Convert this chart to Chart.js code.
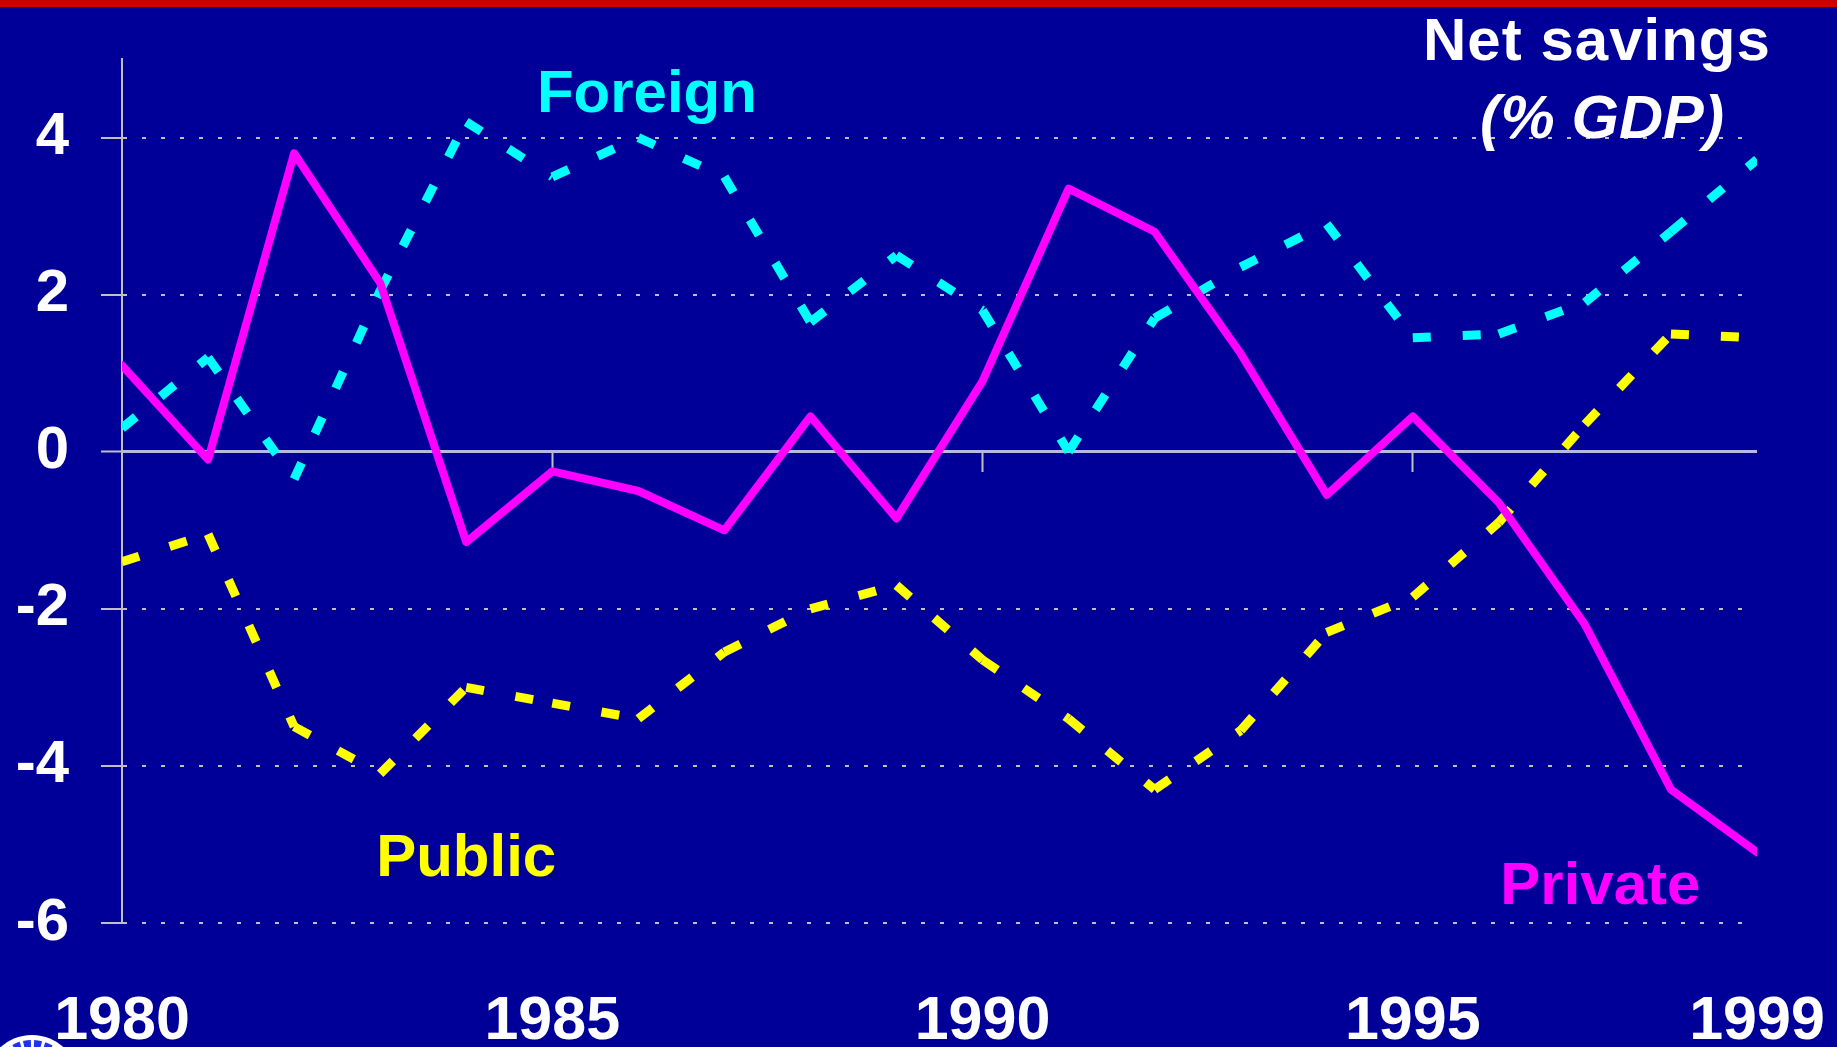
<!DOCTYPE html>
<html>

<head>
    <meta charset="utf-8">
    <script src="https://cdn.jsdelivr.net/npm/chart.js@4.4.0/dist/chart.umd.min.js"></script>
    <style>
        html,
        body {
            margin: 0;
            padding: 0;
            background: #000099;
            overflow: hidden;
        }

        #chart-container {
            width: 1837px;
            height: 1047px;
        }
    </style>
</head>

<body>
    <div id="chart-container">
        <canvas id="savingsChart" width="1837" height="1047"></canvas>
    </div>
    <script>
        // values, % of GDP
        const years = [1980, 1981, 1982, 1983, 1984, 1985, 1986, 1987, 1988, 1989,
            1990, 1991, 1992, 1993, 1994, 1995, 1996, 1997, 1998, 1999];
        const privateSavings = [1.1, -0.1, 3.8, 2.15, -1.15, -0.25, -0.5, -1.0, 0.45, -0.85,
            0.9, 3.35, 2.8, 1.25, -0.55, 0.45, -0.65, -2.2, -4.3, -5.1];
        const publicSavings = [-1.4, -1.05, -3.5, -4.1, -3.0, -3.2, -3.4, -2.55, -2.0, -1.7,
            -2.65, -3.4, -4.3, -3.55, -2.3, -1.85, -0.9, 0.35, 1.5, 1.45];
        const foreignSavings = [0.3, 1.2, -0.35, 2.05, 4.2, 3.5, 4.0, 3.5, 1.65, 2.5,
            1.8, 0.0, 1.7, 2.35, 2.9, 1.45, 1.5, 1.9, 2.8, 3.72];

        const xTickYears = [1980, 1985, 1990, 1995, 1999];
        const zeroTickYears = [1985, 1990, 1995];
        const yTickValues = [-6, -4, -2, 0, 2, 4];

        const FONT = '"Liberation Sans", Arial, sans-serif';
        const GRID = '#C0C0C0';

        // labels placed in data units
        const notes = [
            { text: 'Foreign', year: 1986.1, value: 4.33, color: '#00FFFF', font: 'bold 60px ' + FONT },
            { text: 'Public', year: 1984.0, value: -5.4, color: '#FFFF00', font: 'bold 60px ' + FONT },
            { text: 'Private', year: 1997.18, value: -5.76, color: '#FF00FF', font: 'bold 60px ' + FONT },
            { text: 'Net savings', year: 1997.14, value: 4.99, color: '#FFFFFF', font: 'bold 60px ' + FONT, spacing: '1px' },
            { text: '(% GDP)', year: 1997.2, value: 4.0, color: '#FFFFFF', font: 'italic bold 61px ' + FONT }
        ];

        // each segment its own path so the dash pattern restarts at every year
        const restartDash = { borderDashOffset: ctx => ctx.p0DataIndex * 0.001 };

        const slidePlugin = {
            id: 'slide',
            beforeDraw(chart) {
                const c = chart.ctx;
                c.save();
                c.fillStyle = '#000099';
                c.fillRect(0, 0, chart.width, chart.height);
                c.fillStyle = '#CC0000';
                c.fillRect(0, 0, chart.width, 7);
                c.restore();
            },
            afterDraw(chart) {
                const c = chart.ctx;
                const xs = chart.scales.x, ys = chart.scales.y;
                c.save();
                c.textAlign = 'center';
                c.textBaseline = 'alphabetic';
                notes.forEach(n => {
                    c.font = n.font;
                    c.letterSpacing = n.spacing || '0px';
                    c.fillStyle = n.color;
                    c.fillText(n.text, xs.getPixelForValue(n.year), ys.getPixelForValue(n.value));
                });
                // logo peeking in at the bottom left
                c.beginPath();
                c.arc(32, 1082, 47, 0, Math.PI * 2);
                c.fillStyle = '#FFFFFF';
                c.fill();
                c.beginPath();
                c.arc(32, 1082, 37, Math.PI, Math.PI * 2);
                c.setLineDash([7, 3]);
                c.lineWidth = 10;
                c.strokeStyle = '#2233EE';
                c.stroke();
                c.restore();
            }
        };

        const ctx = document.getElementById('savingsChart').getContext('2d');

        const savingsChart = new Chart(ctx, {
            type: 'line',
            data: {
                labels: years,
                datasets: [
                    {
                        label: 'Private',
                        data: privateSavings,
                        borderColor: '#FF00FF',
                        borderWidth: 8,
                        borderJoinStyle: 'round',
                        borderCapStyle: 'round',
                        pointRadius: 0,
                        tension: 0,
                        xAxisID: 'x',
                        yAxisID: 'y'
                    },
                    {
                        label: 'Public',
                        data: publicSavings,
                        borderColor: '#FFFF00',
                        borderWidth: 9,
                        borderDash: [18, 32],
                        segment: restartDash,
                        pointRadius: 0,
                        tension: 0,
                        xAxisID: 'x',
                        yAxisID: 'y'
                    },
                    {
                        label: 'Foreign',
                        data: foreignSavings,
                        borderColor: '#00FFFF',
                        borderWidth: 9,
                        borderDash: [18, 32],
                        segment: restartDash,
                        pointRadius: 0,
                        tension: 0,
                        xAxisID: 'x',
                        yAxisID: 'y'
                    }
                ]
            },
            options: {
                responsive: false,
                animation: false,
                devicePixelRatio: 1,
                events: [],
                layout: {
                    padding: { top: 59, right: 80, bottom: 0, left: 0 }
                },
                plugins: {
                    legend: { display: false },
                    tooltip: { enabled: false },
                    title: { display: false }
                },
                scales: {
                    x: {
                        type: 'linear',
                        axis: 'x',
                        position: 'bottom',
                        min: 1980,
                        max: 1999,
                        afterBuildTicks: axis => { axis.ticks = xTickYears.map(v => ({ value: v })); },
                        afterFit: axis => { axis.height = 124; },
                        ticks: {
                            color: '#FFFFFF',
                            font: { family: FONT, size: 61, weight: 'bold', lineHeight: 1.2 },
                            padding: 0,
                            maxRotation: 0,
                            autoSkip: false,
                            callback: v => String(v)
                        },
                        grid: {
                            display: true,
                            drawOnChartArea: false,
                            drawTicks: true,
                            tickLength: 63,
                            tickColor: 'rgba(0,0,0,0)'
                        },
                        border: { display: false }
                    },
                    x2: {
                        type: 'linear',
                        axis: 'x',
                        position: { y: 0 },
                        min: 1980,
                        max: 1999,
                        afterBuildTicks: axis => { axis.ticks = zeroTickYears.map(v => ({ value: v })); },
                        ticks: { display: false },
                        grid: {
                            drawOnChartArea: false,
                            drawTicks: true,
                            tickLength: 20,
                            tickColor: GRID,
                            tickWidth: 2
                        },
                        border: { display: false }
                    },
                    y: {
                        type: 'linear',
                        position: 'left',
                        min: -6,
                        max: 5,
                        afterBuildTicks: axis => { axis.ticks = yTickValues.map(v => ({ value: v })); },
                        afterFit: axis => {
                            axis.width = 122;
                            axis.paddingTop = 0;
                            axis.paddingBottom = 0;
                        },
                        ticks: {
                            color: '#FFFFFF',
                            font: { family: FONT, size: 60, weight: 'bold' },
                            padding: 32,
                            callback: v => String(v)
                        },
                        grid: {
                            color: c => (c.tick && c.tick.value === 0) ? '#B8B8E0' : GRID,
                            lineWidth: c => (c.tick && c.tick.value === 0) ? 3 : 2,
                            tickLength: 21,
                            tickColor: GRID,
                            tickWidth: 2
                        },
                        border: {
                            display: true,
                            color: GRID,
                            width: 2,
                            dash: c => (c.tick && c.tick.value !== 0) ? [4, 15] : []
                        }
                    }
                }
            },
            plugins: [slidePlugin]
        });
    </script>
</body>

</html>
